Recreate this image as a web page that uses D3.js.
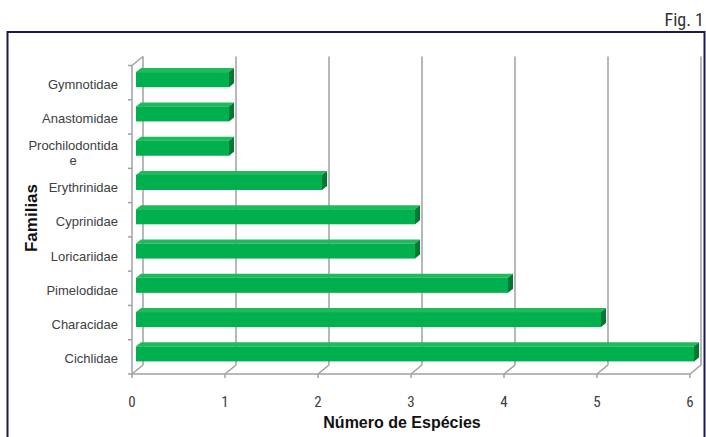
<!DOCTYPE html>
<html>
<head>
<meta charset="utf-8">
<script src="https://cdn.jsdelivr.net/npm/d3@7"></script>
<style>
  html, body { margin: 0; padding: 0; background: #fff; }
  svg { display: block; }
</style>
</head>
<body>
<svg id="chart" width="706" height="437"></svg>
<script>
// Species count per fish family (top to bottom as listed on the axis)
const families = ["Gymnotidae", "Anastomidae", "Prochilodontidae", "Erythrinidae",
                  "Cyprinidae", "Loricariidae", "Pimelodidae", "Characidae", "Cichlidae"];
const speciesCount = [1, 1, 1, 2, 3, 3, 4, 5, 6];
const xTicks = [0, 1, 2, 3, 4, 5, 6];

const W = 706, H = 437;
const svg = d3.select("#chart");

// Plot frame (front plane) and 3D depth offsets
const plot = { left: 132, right: 690, top: 65.5, bottom: 374 };
const wallDepth = { dx: 11, dy: -9 };     // back wall offset
const barFront = { dx: 4, dy: -3 };       // bar front face offset
const barBack = { dx: 9, dy: -7 };        // bar back face offset

const x = d3.scaleLinear().domain([0, 6]).range([plot.left, plot.right]);
const y = d3.scaleBand().domain(families).range([plot.top, plot.bottom]).paddingInner(0).paddingOuter(0);

// Outer frame
svg.append("rect")
  .attr("x", 7.5).attr("y", 32).attr("width", 697).attr("height", 420)
  .attr("fill", "none").attr("stroke", "#1b1b4b").attr("stroke-width", 2);

// Figure number
svg.append("text")
  .attr("x", 704).attr("y", 26)
  .attr("text-anchor", "end")
  .attr("font-family", "'Liberation Sans Narrow', 'Roboto Condensed', Roboto, sans-serif")
  .attr("font-size", 18).attr("fill", "#333")
  .text("Fig. 1");

const gridColor = "#a0a0a0";
const grid = svg.append("g").attr("stroke", gridColor).attr("stroke-width", 1.5).attr("fill", "none");

// Back wall vertical gridlines
xTicks.forEach(t => {
  const xb = x(t) + wallDepth.dx;
  grid.append("line")
    .attr("x1", xb).attr("x2", xb)
    .attr("y1", plot.top + wallDepth.dy).attr("y2", plot.bottom + wallDepth.dy);
  // floor diagonals
  grid.append("line")
    .attr("x1", x(t)).attr("y1", plot.bottom)
    .attr("x2", xb).attr("y2", plot.bottom + wallDepth.dy);
  // tick marks below the floor
  grid.append("line")
    .attr("x1", x(t)).attr("x2", x(t))
    .attr("y1", plot.bottom).attr("y2", plot.bottom + 4);
});

// Front floor edge
grid.append("line")
  .attr("x1", x(0)).attr("x2", x(6))
  .attr("y1", plot.bottom).attr("y2", plot.bottom);

// Left wall front edge and top diagonal
grid.append("line")
  .attr("x1", plot.left).attr("x2", plot.left)
  .attr("y1", plot.top).attr("y2", plot.bottom);
grid.append("line")
  .attr("x1", plot.left).attr("y1", plot.top)
  .attr("x2", plot.left + wallDepth.dx).attr("y2", plot.top + wallDepth.dy);

// Category tick marks on the left edge
const boundaries = families.map(f => y(f)).concat([plot.bottom]);
boundaries.forEach(b => {
  grid.append("line")
    .attr("x1", plot.left - 4).attr("x2", plot.left)
    .attr("y1", b).attr("y2", b);
});

// 3D bars
const barH = y.bandwidth() * 0.44;
const bars = svg.append("g");
families.forEach((f, i) => {
  const v = speciesCount[i];
  const cy = y(f) + y.bandwidth() / 2;
  const x0 = x(0) + barFront.dx, x1 = x(v) + barFront.dx;
  const yt = cy - barH / 2 + barFront.dy, yb = cy + barH / 2 + barFront.dy;
  const ddx = barBack.dx - barFront.dx, ddy = barBack.dy - barFront.dy;
  // top face
  bars.append("path")
    .attr("d", `M${x0},${yt} L${x0 + ddx},${yt + ddy} L${x1 + ddx},${yt + ddy} L${x1},${yt} Z`)
    .attr("fill", "#1fba5a");
  // side face
  bars.append("path")
    .attr("d", `M${x1},${yt} L${x1 + ddx},${yt + ddy} L${x1 + ddx},${yb + ddy} L${x1},${yb} Z`)
    .attr("fill", "#007a33");
  // front face
  bars.append("rect")
    .attr("x", x0).attr("y", yt).attr("width", x1 - x0).attr("height", yb - yt)
    .attr("fill", "#00b04f");
});

// Category labels, wrapped by character when too wide
const labelFont = "'Liberation Sans', Arial, sans-serif";
const labels = svg.append("g")
  .attr("font-family", labelFont).attr("font-size", 13).attr("fill", "#404040");
const maxLabelW = 96;
families.forEach(f => {
  const cy = y(f) + y.bandwidth() / 2 + 2;
  const probe = labels.append("text").text(f);
  let lines = [f];
  if (probe.node().getComputedTextLength() > maxLabelW) {
    let cut = f.length;
    while (cut > 1) {
      probe.text(f.slice(0, cut));
      if (probe.node().getComputedTextLength() <= maxLabelW) break;
      cut--;
    }
    lines = [f.slice(0, cut), f.slice(cut)];
  }
  probe.remove();
  const lineH = 15;
  const widths = lines.map(l => {
    const t = labels.append("text").text(l);
    const w = t.node().getComputedTextLength();
    t.remove();
    return w;
  });
  const blockW = d3.max(widths);
  const right = 118;
  const centerX = right - blockW / 2;
  lines.forEach((l, k) => {
    labels.append("text")
      .attr("x", centerX)
      .attr("y", cy + (k - (lines.length - 1) / 2) * lineH)
      .attr("dy", "0.35em")
      .attr("text-anchor", "middle")
      .text(l);
  });
});

// X tick labels
svg.append("g")
  .attr("font-family", "'Liberation Sans Narrow', 'Roboto Condensed', Roboto, sans-serif")
  .attr("font-size", 15).attr("fill", "#404040")
  .selectAll("text").data(xTicks).join("text")
  .attr("x", d => x(d)).attr("y", 407)
  .attr("text-anchor", "middle")
  .text(d => d);

// Axis titles
svg.append("text")
  .attr("x", 402).attr("y", 428)
  .attr("text-anchor", "middle")
  .attr("font-family", labelFont).attr("font-weight", "bold")
  .attr("font-size", 16).attr("fill", "#111")
  .text("Número de Espécies");

svg.append("text")
  .attr("transform", "translate(37,218) rotate(-90)")
  .attr("text-anchor", "middle")
  .attr("font-family", labelFont).attr("font-weight", "bold")
  .attr("font-size", 17).attr("fill", "#111")
  .text("Familias");
</script>
</body>
</html>
